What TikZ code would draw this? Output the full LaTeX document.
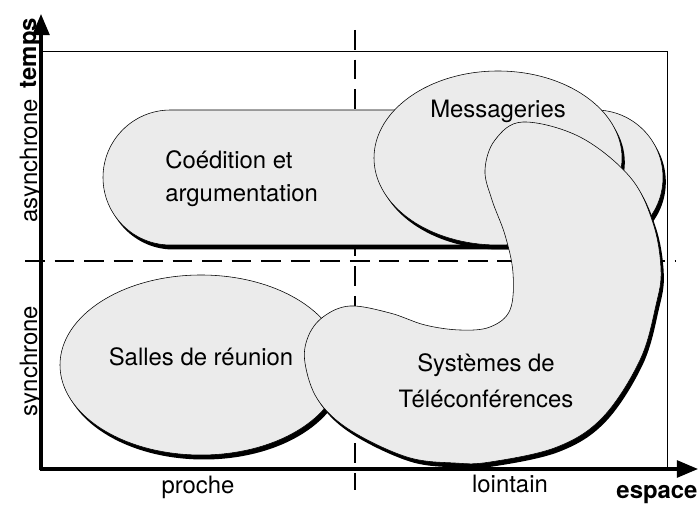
\documentclass[tikz,border=0pt]{standalone}
\usepackage{fontspec}
\setmainfont{TeX Gyre Heros}
\usetikzlibrary{shadows, arrows.meta}

\definecolor{blobgray}{gray}{0.92}
\tikzset{
  blob/.style={draw, thin, fill=blobgray,
    drop shadow={shadow xshift=2pt, shadow yshift=-3.2pt, fill=black, opacity=1}},
  axis/.style={line width=2.2pt, -{Triangle[length=15pt, width=12pt]}},
  split/.style={line width=1.5pt, dash pattern=on 14pt off 7pt},
  lbl/.style={font=\fontsize{17}{24}\selectfont, inner sep=0pt},
  axlbl/.style={inner sep=0pt, font=\fontsize{17}{24}\selectfont\bfseries}
}

\begin{document}
\begin{tikzpicture}[x=0.025cm, y=-0.025cm]
\useasboundingbox (0,0) rectangle (700,505);

%Frame and quadrants
\draw[thin] (41,51) -- (667,51) -- (667,469);
\draw[split] (355,30) -- (355,490);
\draw[split] (25,261) -- (676,261);

%Axes
\draw[axis] (41,470.5) -- (41,14);
\draw[axis] (39.5,469) -- (698,469);

%Coedition et argumentation
\path[blob, rounded corners=48pt] (103,110) rectangle (663,245);
\node[lbl, align=left, anchor=north west,
  font=\fontsize{17}{23.5}\selectfont] (coed) at (165,150) {Coédition et\\argumentation};

%Messageries
\path[blob] (498,158) ellipse [x radius=124, y radius=87];
\node[lbl, anchor=base] (mess) at (498,118) {Messageries};

%Salles de reunion
\path[blob] (201,365) ellipse [x radius=141, y radius=90];
\node[lbl, anchor=base] (salles) at (201,366) {Salles de réunion};

%Systemes de teleconferences
\path[blob] plot[smooth cycle, tension=0.6] coordinates {
  (523,122) (580,137) (630,177) (653,223) (661,270) (656,305)
  (640,360) (603,417) (557,447) (490,462) (455,463) (407,457)
  (350,430) (318,400) (305,363) (308,337) (323,317) (350,306)
  (390,313) (425,325) (460,330) (490,327) (510,310) (513,273)
  (505,235) (492,200) (485,170) (495,140)};
\node[lbl, align=center, anchor=north,
  font=\fontsize{17}{25.6}\selectfont] (tele) at (486,353) {Systèmes de\\Téléconférences};

%Axis labels
\node[axlbl, rotate=90, anchor=base] (temps) at (36,53) {temps};
\node[lbl, rotate=90, anchor=base] (async) at (37,161) {asynchrone};
\node[lbl, rotate=90, anchor=base] (sync) at (37,361) {synchrone};
\node[lbl, anchor=base] (proche) at (198,494) {proche};
\node[lbl, anchor=base] (loin) at (510,493) {lointain};
\node[axlbl, anchor=base] (espace) at (657,499) {espace};

\end{tikzpicture}
\end{document}
